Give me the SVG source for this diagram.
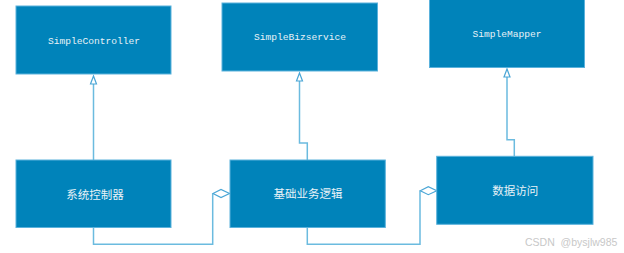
<svg xmlns="http://www.w3.org/2000/svg" width="624" height="253" viewBox="0 0 624 253">
<style>
.box{fill:#0083BA;stroke:#5BB2DC;stroke-width:1}
.en{font-family:"Liberation Mono","DejaVu Sans Mono",monospace;font-size:9.6px;fill:#E8F2F7;text-anchor:middle}
.zh{font-family:"Noto Sans CJK SC","Noto Sans",sans-serif;font-size:11.5px;fill:#E8F2F7;text-anchor:middle}
.ln{fill:none;stroke:#6BBBDF;stroke-width:1.5}
.tri{fill:#fff;stroke:#4AA6D6;stroke-width:1.2}
.dia{fill:#fff;stroke:#4AA6D6;stroke-width:1.2}
.wm{font-family:"Liberation Sans","DejaVu Sans",sans-serif;font-size:10.5px;fill:#C8C8C8}
</style>
<rect width="624" height="253" fill="#fff"/>
<g id="connectors">
<path class="ln" d="M93.5,84 V160"/>
<polygon class="tri" points="93.5,76 90.5,84 96.5,84"/>
<path class="ln" d="M299.5,81 V143 H307.3 V160"/>
<polygon class="tri" points="299.5,73 296.5,81 302.5,81"/>
<path class="ln" d="M507,77 V139.7 H514.3 V156"/>
<polygon class="tri" points="507,69 504,77 510,77"/>
<path class="ln" d="M93.5,227.5 V244.3 H212.7 V193.5"/>
<polygon class="dia" points="213,193.5 221,189.5 229.5,193.5 221,197.5"/>
<path class="ln" d="M307.3,227.5 V244.3 H420 V190.7"/>
<polygon class="dia" points="420.3,190.7 428.3,186.7 436.8,190.7 428.3,194.7"/>
</g>
<g id="SimpleController"><rect class="box" x="16" y="6" width="155" height="68"/><text class="en" x="94" y="43.5">SimpleController</text></g>
<g id="SimpleBizservice"><rect class="box" x="222" y="3" width="155.5" height="68"/><text class="en" x="300" y="40">SimpleBizservice</text></g>
<g id="SimpleMapper"><rect class="box" x="429.5" y="-1" width="155" height="68.5"/><text class="en" x="507" y="36.5">SimpleMapper</text></g>
<g id="n4"><rect class="box" x="16" y="160" width="155" height="67.5"/><text class="zh" x="95" y="198.5">系统控制器</text></g>
<g id="n5"><rect class="box" x="230" y="160" width="155.3" height="67.5"/><text class="zh" x="308" y="197.5">基础业务逻辑</text></g>
<g id="n6"><rect class="box" x="436.7" y="156.3" width="156.3" height="68"/><text class="zh" x="515.3" y="194.5">数据访问</text></g>
<text class="wm" x="525" y="246" xml:space="preserve">CSDN  @bysjlw985</text>
</svg>
